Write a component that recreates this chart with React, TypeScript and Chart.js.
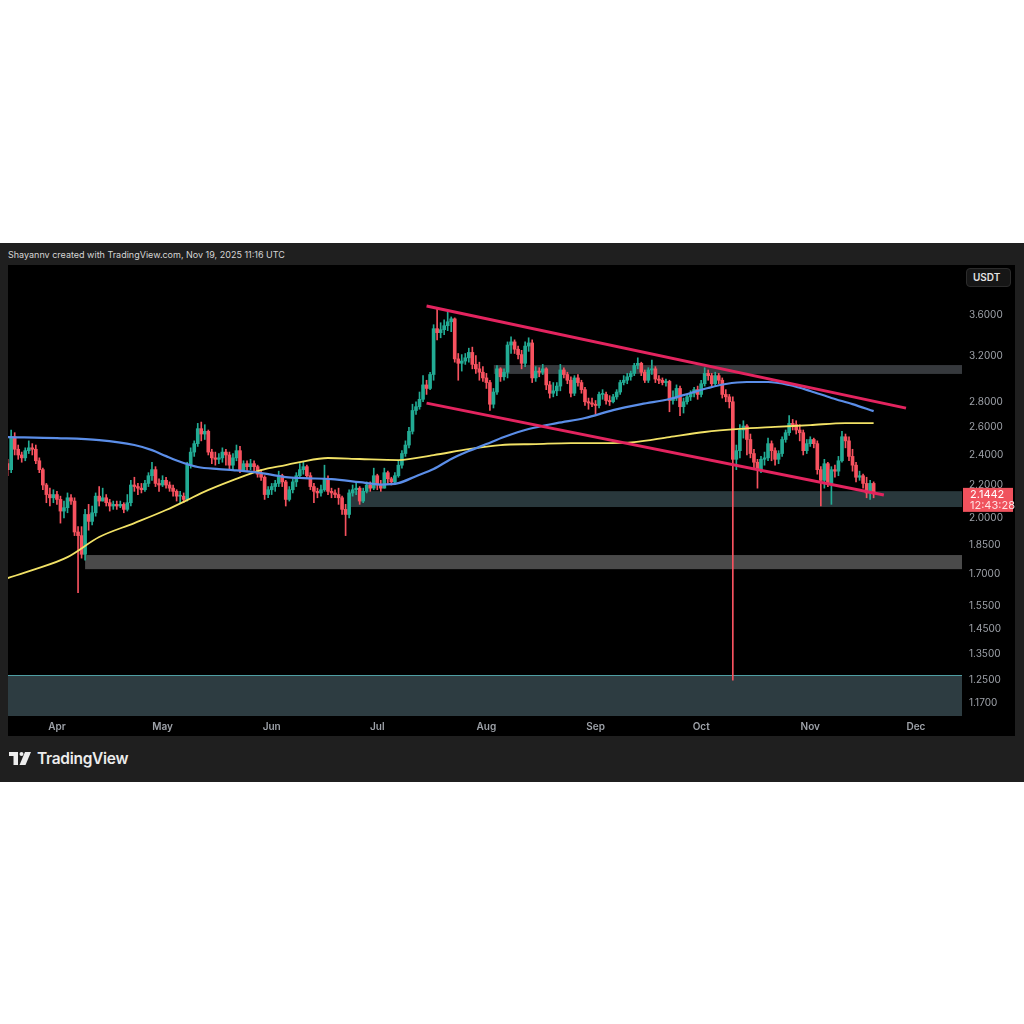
import React, { useEffect, useRef } from "react";
import { Chart, registerables } from "chart.js";

Chart.register(...registerables);

// Day offsets are counted from Apr 1, 2025 (0). First candle: Mar 18, 2025.
const FIRST_DAY = -14;
const FIRST_OPEN = 2.34;

// Daily closes, Mar 18 -> Nov 19 2025 (XRP/USDT)
const closes = [
  // Mar 18-31
  2.30, 2.53, 2.44, 2.40, 2.38, 2.43, 2.45, 2.44, 2.36, 2.30, 2.20, 2.14, 2.12, 2.14,
  // Apr
  2.11, 2.04, 2.06, 2.12, 2.10, 1.92, 1.90, 1.80, 2.02, 1.98, 2.03, 2.13, 2.10, 2.12, 2.09,
  2.07, 2.08, 2.07, 2.08, 2.05, 2.09, 2.20, 2.19, 2.18, 2.17, 2.21, 2.26, 2.30, 2.21, 2.20,
  // May
  2.23, 2.20, 2.18, 2.16, 2.13, 2.13, 2.11, 2.33, 2.42, 2.48, 2.59, 2.55, 2.57, 2.42, 2.38,
  2.37, 2.38, 2.42, 2.40, 2.33, 2.38, 2.43, 2.30, 2.34, 2.32, 2.34, 2.32, 2.27, 2.25, 2.14, 2.17,
  // Jun
  2.19, 2.21, 2.26, 2.22, 2.11, 2.17, 2.22, 2.26, 2.30, 2.32, 2.26, 2.19, 2.16, 2.15, 2.17,
  2.24, 2.16, 2.15, 2.14, 2.12, 2.05, 2.02, 2.15, 2.17, 2.18, 2.10, 2.16, 2.20, 2.18, 2.26,
  // Jul
  2.20, 2.18, 2.28, 2.24, 2.22, 2.26, 2.33, 2.41, 2.47, 2.57, 2.73, 2.76, 2.82, 2.94, 2.91,
  3.03, 3.46, 3.42, 3.45, 3.49, 3.53, 3.56, 3.17, 3.13, 3.15, 3.18, 3.23, 3.12, 3.08, 3.05, 3.00,
  // Aug
  2.96, 2.78, 2.88, 3.08, 3.01, 3.05, 3.30, 3.33, 3.26, 3.21, 3.13, 3.29, 3.32, 3.00, 3.06,
  3.05, 3.08, 2.94, 2.87, 2.89, 2.93, 3.07, 3.03, 2.98, 2.87, 3.00, 2.96, 2.90, 2.80, 2.79, 2.78,
  // Sep
  2.77, 2.86, 2.86, 2.81, 2.80, 2.84, 2.88, 2.96, 2.98, 3.01, 3.04, 3.11, 3.13, 3.05, 2.98,
  3.07, 3.08, 2.99, 2.98, 2.96, 2.97, 2.81, 2.83, 2.91, 2.76, 2.80, 2.84, 2.87, 2.90, 2.86,
  // Oct
  2.95, 3.04, 3.02, 2.95, 3.02, 2.98, 2.86, 2.84, 2.80, 2.37, 2.43, 2.58, 2.61, 2.51, 2.41,
  2.35, 2.30, 2.37, 2.38, 2.48, 2.43, 2.37, 2.41, 2.51, 2.56, 2.63, 2.62, 2.58, 2.56, 2.43, 2.48,
  // Nov 1-19
  2.51, 2.48, 2.30, 2.23, 2.34, 2.21, 2.30, 2.29, 2.36, 2.53, 2.50, 2.39, 2.33, 2.25, 2.26,
  2.21, 2.15, 2.21, 2.1442,
];

const highs = [
  2.37, 2.58, 2.56, 2.47, 2.42, 2.45, 2.50, 2.48, 2.47, 2.38, 2.31, 2.21, 2.18, 2.17,
  2.16, 2.13, 2.10, 2.15, 2.14, 2.12, 1.95, 1.95, 2.05, 2.08, 2.07, 2.15, 2.19, 2.18, 2.14,
  2.11, 2.10, 2.10, 2.10, 2.09, 2.14, 2.23, 2.25, 2.21, 2.21, 2.23, 2.28, 2.35, 2.32, 2.24,
  2.26, 2.25, 2.22, 2.20, 2.17, 2.16, 2.15, 2.35, 2.45, 2.50, 2.63, 2.64, 2.62, 2.58, 2.44,
  2.42, 2.41, 2.45, 2.44, 2.42, 2.41, 2.47, 2.46, 2.36, 2.36, 2.37, 2.36, 2.33, 2.30, 2.26, 2.19,
  2.21, 2.23, 2.29, 2.27, 2.23, 2.19, 2.24, 2.28, 2.34, 2.35, 2.33, 2.28, 2.21, 2.18, 2.20,
  2.33, 2.26, 2.18, 2.17, 2.18, 2.13, 2.08, 2.17, 2.20, 2.21, 2.19, 2.18, 2.22, 2.22, 2.31,
  2.27, 2.23, 2.31, 2.29, 2.25, 2.28, 2.36, 2.43, 2.50, 2.60, 2.78, 2.80, 2.88, 3.02, 2.98,
  3.05, 3.50, 3.67, 3.52, 3.55, 3.64, 3.58, 3.57, 3.22, 3.21, 3.22, 3.27, 3.28, 3.20, 3.14, 3.10,
  3.04, 2.98, 2.91, 3.11, 3.09, 3.08, 3.33, 3.38, 3.35, 3.29, 3.25, 3.33, 3.37, 3.35, 3.10,
  3.09, 3.12, 3.09, 2.97, 2.96, 2.96, 3.12, 3.09, 3.05, 3.01, 3.02, 3.03, 2.98, 2.92, 2.83, 2.83,
  2.81, 2.88, 2.90, 2.88, 2.85, 2.86, 2.90, 2.98, 3.02, 3.04, 3.06, 3.13, 3.18, 3.14, 3.07,
  3.09, 3.16, 3.10, 3.02, 3.00, 2.99, 2.98, 2.89, 2.94, 2.93, 2.83, 2.86, 2.89, 2.92, 2.93,
  2.98, 3.09, 3.07, 3.04, 3.05, 3.04, 3.00, 2.90, 2.86, 2.84, 2.47, 2.62, 2.65, 2.62, 2.55,
  2.44, 2.37, 2.39, 2.42, 2.52, 2.50, 2.45, 2.43, 2.53, 2.58, 2.69, 2.66, 2.65, 2.62, 2.58, 2.51,
  2.53, 2.52, 2.50, 2.32, 2.37, 2.35, 2.32, 2.33, 2.39, 2.57, 2.55, 2.53, 2.44, 2.35, 2.29,
  2.27, 2.25, 2.23, 2.22,
];

const lows = [
  2.26, 2.28, 2.40, 2.37, 2.35, 2.36, 2.41, 2.40, 2.34, 2.28, 2.17, 2.09, 2.07, 2.09,
  2.08, 1.97, 2.00, 2.03, 2.08, 1.90, 1.61, 1.78, 1.77, 1.93, 1.96, 2.01, 2.07, 2.10, 2.07,
  2.04, 2.05, 2.05, 2.06, 2.03, 2.04, 2.07, 2.16, 2.14, 2.15, 2.16, 2.19, 2.23, 2.19, 2.16,
  2.19, 2.18, 2.16, 2.13, 2.10, 2.09, 2.09, 2.10, 2.31, 2.39, 2.46, 2.50, 2.51, 2.40, 2.34,
  2.33, 2.34, 2.35, 2.33, 2.30, 2.30, 2.36, 2.28, 2.29, 2.29, 2.30, 2.29, 2.25, 2.23, 2.11, 2.12,
  2.14, 2.16, 2.19, 2.19, 2.07, 2.10, 2.15, 2.19, 2.24, 2.27, 2.24, 2.17, 2.09, 2.12, 2.13,
  2.16, 2.14, 2.12, 2.12, 2.08, 2.02, 1.90, 2.00, 2.13, 2.14, 2.08, 2.09, 2.15, 2.16, 2.17,
  2.17, 2.16, 2.18, 2.21, 2.20, 2.21, 2.25, 2.31, 2.39, 2.45, 2.55, 2.70, 2.74, 2.80, 2.86,
  2.90, 2.98, 3.35, 3.37, 3.40, 3.44, 3.43, 3.14, 2.98, 3.06, 3.12, 3.14, 3.08, 3.04, 2.98, 2.97,
  2.91, 2.73, 2.75, 2.86, 2.97, 2.98, 3.00, 3.22, 3.22, 3.17, 3.08, 3.10, 3.24, 2.96, 2.97,
  3.01, 3.03, 2.90, 2.83, 2.84, 2.85, 2.89, 3.00, 2.95, 2.84, 2.85, 2.93, 2.87, 2.77, 2.74, 2.76,
  2.70, 2.75, 2.82, 2.78, 2.77, 2.79, 2.82, 2.86, 2.94, 2.95, 2.98, 3.02, 3.08, 3.02, 2.96,
  2.96, 3.03, 2.96, 2.95, 2.94, 2.93, 2.72, 2.78, 2.81, 2.69, 2.71, 2.78, 2.81, 2.84, 2.82,
  2.84, 2.93, 2.98, 2.92, 2.93, 2.95, 2.83, 2.80, 2.75, 1.25, 2.30, 2.38, 2.52, 2.40, 2.38,
  2.31, 2.18, 2.28, 2.33, 2.36, 2.36, 2.33, 2.34, 2.39, 2.49, 2.54, 2.58, 2.55, 2.50, 2.40, 2.41,
  2.46, 2.45, 2.27, 2.07, 2.18, 2.19, 2.08, 2.25, 2.26, 2.35, 2.45, 2.36, 2.29, 2.22, 2.23,
  2.18, 2.12, 2.11, 2.12,
];

// Moving averages (sampled)
const blueMaDays = [-14, 0, 12, 22, 27, 31, 36, 40, 46, 50, 56, 60, 65, 70, 78, 86, 92, 97, 102, 107, 112, 117, 122, 127, 134, 142, 150, 158, 166, 174, 180, 185, 190, 196, 202, 208, 214, 220, 226, 232];
const blueMaValues = [2.528, 2.52, 2.506, 2.47, 2.434, 2.392, 2.345, 2.318, 2.304, 2.297, 2.284, 2.27, 2.251, 2.244, 2.238, 2.218, 2.203, 2.212, 2.257, 2.304, 2.372, 2.427, 2.477, 2.528, 2.587, 2.632, 2.671, 2.733, 2.781, 2.822, 2.872, 2.914, 2.948, 2.965, 2.965, 2.939, 2.889, 2.831, 2.781, 2.725];

const yellowMaDays = [-14, -7, 3, 12, 22, 31, 37, 41, 50, 58, 65, 69, 77, 86, 97, 107, 117, 126, 136, 146, 155, 164, 174, 184, 194, 204, 214, 224, 232];
const yellowMaValues = [1.68, 1.719, 1.785, 1.892, 1.97, 2.046, 2.106, 2.149, 2.231, 2.297, 2.331, 2.351, 2.379, 2.372, 2.365, 2.399, 2.441, 2.47, 2.477, 2.484, 2.484, 2.491, 2.528, 2.565, 2.588, 2.603, 2.617, 2.632, 2.632];

// Channel trend lines
const upperTrendDays = [105, 241.2];
const upperTrendValues = [3.695, 2.749];
const lowerTrendDays = [105, 234.9];
const lowerTrendValues = [2.789, 2.137];

// Horizontal zones
const zoneStartDays = [124.1, 83, 8, -14];
const zoneHighs = [3.114, 2.161, 1.796, 1.268];
const zoneLows = [3.035, 2.064, 1.724, 1.0];
const zoneFills = ["rgba(72,76,82,0.75)", "rgba(46,62,66,0.9)", "rgba(78,78,78,0.95)", "rgba(45,60,65,1)"];
const zoneEdges = ["", "", "", "#4f9ea3"];

// Axis ticks
const priceTicks = [3.6, 3.2, 2.8, 2.6, 2.4, 2.2, 2.0, 1.85, 1.7, 1.55, 1.45, 1.35, 1.25, 1.17];
const monthTickDays = [0, 30, 61, 91, 122, 153, 183, 214, 244];
const monthTickLabels = ["Apr", "May", "Jun", "Jul", "Aug", "Sep", "Oct", "Nov", "Dec"];

const lastPriceLabel = "2.1442";
const countdownLabel = "12:43:28";

const UP = "#22ab94";
const DOWN = "#f7525f";

export default function App() {
  const ref = useRef<HTMLCanvasElement>(null);

  useEffect(() => {
    const opens = closes.map((c, i) => (i === 0 ? FIRST_OPEN : closes[i - 1]));
    const days = closes.map((_, i) => FIRST_DAY + i);
    const colors = closes.map((c, i) => (c >= opens[i] ? UP : DOWN));
    const bodyData = days.map((d, i) => ({ x: d, y: [opens[i], closes[i]] }));
    const wickData = days.map((d, i) => ({
      x: d,
      y: [Math.min(lows[i], opens[i], closes[i]), Math.max(highs[i], opens[i], closes[i])],
    }));

    const zonesPlugin = {
      id: "zones",
      beforeDatasetsDraw(chart: any) {
        const { ctx, chartArea, scales } = chart;
        const xs = scales.x;
        const ys = scales.y;
        ctx.save();
        ctx.beginPath();
        ctx.rect(chartArea.left, chartArea.top, chartArea.right - chartArea.left, chartArea.bottom - chartArea.top);
        ctx.clip();
        zoneStartDays.forEach((d, i) => {
          const x0 = Math.max(chartArea.left, xs.getPixelForValue(d));
          const yTop = ys.getPixelForValue(zoneHighs[i]);
          const yBot = ys.getPixelForValue(zoneLows[i]);
          ctx.fillStyle = zoneFills[i];
          ctx.fillRect(x0, yTop, chartArea.right - x0, yBot - yTop);
          if (zoneEdges[i]) {
            ctx.strokeStyle = zoneEdges[i];
            ctx.lineWidth = 1;
            ctx.beginPath();
            ctx.moveTo(x0, Math.round(yTop) + 0.5);
            ctx.lineTo(chartArea.right, Math.round(yTop) + 0.5);
            ctx.stroke();
          }
        });
        ctx.restore();
      },
    };

    const priceTagPlugin = {
      id: "priceTag",
      afterDraw(chart: any) {
        const { ctx, chartArea, scales } = chart;
        const y = scales.y.getPixelForValue(closes[closes.length - 1]);
        const x0 = chartArea.right;
        ctx.save();
        ctx.fillStyle = "#f0525d";
        ctx.fillRect(x0 + 1, y - 6, 50, 24);
        ctx.font = "11px Inter, 'Noto Sans', sans-serif";
        ctx.textBaseline = "middle";
        ctx.textAlign = "left";
        ctx.fillStyle = "#ffffff";
        ctx.fillText(lastPriceLabel, x0 + 8, y + 0.5);
        ctx.fillStyle = "#ffe1e3";
        ctx.fillText(countdownLabel, x0 + 8, y + 11.5);
        ctx.restore();
      },
    };

    const chart = new Chart(ref.current as HTMLCanvasElement, {
      type: "bar",
      data: {
        datasets: [
          {
            type: "line",
            data: upperTrendDays.map((d, i) => ({ x: d, y: upperTrendValues[i] })),
            borderColor: "#e3245f",
            borderWidth: 3,
            pointRadius: 0,
            order: 0,
          } as any,
          {
            type: "line",
            data: lowerTrendDays.map((d, i) => ({ x: d, y: lowerTrendValues[i] })),
            borderColor: "#e3245f",
            borderWidth: 3,
            pointRadius: 0,
            order: 0,
          } as any,
          {
            type: "line",
            data: blueMaDays.map((d, i) => ({ x: d, y: blueMaValues[i] })),
            borderColor: "#5b8ee8",
            borderWidth: 2.2,
            pointRadius: 0,
            cubicInterpolationMode: "monotone",
            order: 1,
          } as any,
          {
            type: "line",
            data: yellowMaDays.map((d, i) => ({ x: d, y: yellowMaValues[i] })),
            borderColor: "#f2e266",
            borderWidth: 1.8,
            pointRadius: 0,
            cubicInterpolationMode: "monotone",
            order: 1,
          } as any,
          {
            type: "bar",
            data: bodyData as any,
            backgroundColor: colors,
            barThickness: 3,
            minBarLength: 1,
            grouped: false,
            order: 2,
          } as any,
          {
            type: "bar",
            data: wickData as any,
            backgroundColor: colors,
            barThickness: 1,
            grouped: false,
            order: 3,
          } as any,
        ],
      },
      options: {
        responsive: false,
        devicePixelRatio: 1,
        animation: false,
        layout: { padding: 0 },
        plugins: { legend: { display: false }, tooltip: { enabled: false } },
        scales: {
          x: {
            type: "linear",
            offset: false,
            bounds: "data",
            min: -13.9,
            max: 257.1,
            grid: { display: false, drawTicks: false, offset: false },
            border: { display: false },
            afterFit: (s: any) => {
              s.height = 20;
              s.paddingLeft = 0;
              s.paddingRight = 0;
            },
            afterBuildTicks: (s: any) => {
              s.ticks = monthTickDays.map((v) => ({ value: v }));
            },
            ticks: {
              autoSkip: false,
              maxRotation: 0,
              padding: 5,
              color: "#9ea2a9",
              font: { family: "Inter, 'Noto Sans', sans-serif", size: 10, weight: "600" },
              callback: (v: any) => monthTickLabels[monthTickDays.indexOf(Number(v))] ?? "",
            },
          },
          y: {
            type: "logarithmic",
            position: "right",
            bounds: "data",
            min: 1.1267,
            max: 4.161,
            grid: { display: false, drawTicks: false },
            border: { display: false },
            afterFit: (s: any) => {
              s.width = 53;
              s.paddingTop = 0;
              s.paddingBottom = 0;
            },
            afterBuildTicks: (s: any) => {
              s.ticks = priceTicks.map((v) => ({ value: v }));
            },
            ticks: {
              autoSkip: false,
              padding: 7,
              color: "#9ea2a9",
              font: { family: "Inter, 'Noto Sans', sans-serif", size: 10 },
              callback: (v: any) => Number(v).toFixed(4),
            },
          },
        },
      } as any,
      plugins: [zonesPlugin, priceTagPlugin],
    });
    return () => chart.destroy();
  }, []);

  return (
    <div style={{ position: "absolute", left: 0, top: 0, width: 1024, height: 1024, background: "#ffffff", overflow: "hidden" }}>
      <div style={{ position: "absolute", left: 0, top: 243, width: 1024, height: 539, background: "#1f1f1f" }} />
      <div
        style={{
          position: "absolute",
          left: 8,
          top: 248,
          fontFamily: "Inter, 'Noto Sans', sans-serif",
          fontSize: 9,
          color: "#d6d6d6",
          whiteSpace: "nowrap",
          lineHeight: "14px",
        }}
      >
        Shayannv created with TradingView.com, Nov 19, 2025 11:16 UTC
      </div>
      <div style={{ position: "absolute", left: 8, top: 265, width: 1007, height: 471, background: "#000000" }}>
        <canvas ref={ref} width={1007} height={471} style={{ display: "block", width: 1007, height: 471 }} />
      </div>
      <div
        style={{
          position: "absolute",
          left: 966,
          top: 268,
          width: 45,
          height: 19,
          boxSizing: "border-box",
          border: "1px solid #2c2c2c",
          borderRadius: 4,
          background: "#161616",
          color: "#e2e2e2",
          fontFamily: "Inter, 'Noto Sans', sans-serif",
          fontSize: 10,
          fontWeight: 600,
          lineHeight: "17px",
          paddingLeft: 6,
        }}
      >
        USDT
      </div>
      <svg style={{ position: "absolute", left: 9, top: 752 }} width={24} height={14} viewBox="0 0 24 14">
        <path d="M0 0 H9 V13 H4.5 V4 H0 Z" fill="#ededed" />
        <circle cx="12.5" cy="2" r="2" fill="#ededed" />
        <path d="M16 0 H22 L16.5 13 H10.5 Z" fill="#ededed" />
      </svg>
      <div
        style={{
          position: "absolute",
          left: 37,
          top: 749,
          fontFamily: "Inter, 'Noto Sans', sans-serif",
          fontSize: 15.5,
          fontWeight: 600,
          color: "#ececec",
          lineHeight: "20px",
          whiteSpace: "nowrap",
          letterSpacing: -0.3,
        }}
      >
        TradingView
      </div>
    </div>
  );
}
